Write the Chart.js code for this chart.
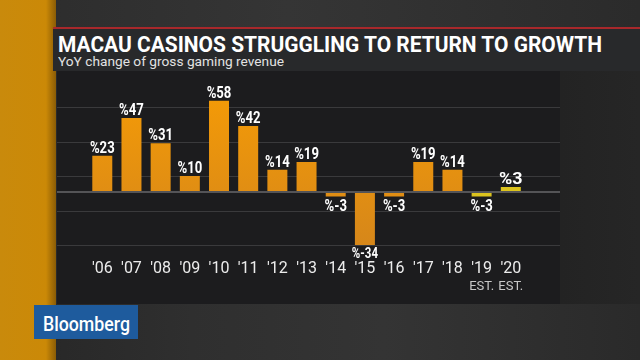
<!DOCTYPE html>
<html>
<head>
<meta charset="utf-8">
<script src="https://cdn.jsdelivr.net/npm/chart.js@4.4.0/dist/chart.umd.min.js"></script>
<style>
html,body{margin:0;padding:0;}
body{width:640px;height:360px;position:relative;overflow:hidden;background:#2a2a2a;font-family:Roboto,"Liberation Sans",sans-serif;}
.abs{position:absolute;}
#top{left:0;top:0;width:640px;height:27px;background:linear-gradient(to right,#2c2c2c,#353535 45%,#2b2b2b);}
#bottom{left:0;top:304px;width:640px;height:56px;background:linear-gradient(to right,#262626,#2f2f2f 30%,#343434 60%,#2a2a2a);}
#right{left:560px;top:71px;width:80px;height:233px;background:linear-gradient(to right,#232323,#262626);}
#strip{left:0;top:0;width:56px;height:360px;background:linear-gradient(to right,#c98a0c,#cb8907 82%,#8a5c06);}
#red{left:53px;top:27px;width:587px;height:2px;background:#a8282b;}
#tpanel{left:53px;top:29px;width:587px;height:42px;background:#28292b;}
#cpanel{left:57px;top:71px;width:503px;height:233px;background:#1c1c1e;}
.txt{white-space:nowrap;transform-origin:0 0;}
#title{left:58px;top:33.1px;font-size:22.5px;line-height:22.5px;font-weight:700;color:#ffffff;}
#sub{left:58px;top:55.1px;font-size:13px;line-height:13px;font-weight:400;color:#e2e2e2;}
#logo{left:34px;top:305px;width:104px;height:34px;background:#1e5b9d;}
#logotext{left:43px;top:314.6px;font-size:19.5px;line-height:19.5px;font-weight:500;color:#ffffff;}
#c{position:absolute;left:0;top:0;}
</style>
</head>
<body>
<div id="top" class="abs"></div>
<div id="bottom" class="abs"></div>
<div id="right" class="abs"></div>
<div id="strip" class="abs"></div>
<div id="red" class="abs"></div>
<div id="tpanel" class="abs"></div>
<div id="cpanel" class="abs"></div>
<div id="title" class="abs txt" data-w="544">MACAU CASINOS STRUGGLING TO RETURN TO GROWTH</div>
<div id="sub" class="abs txt" data-w="226">YoY change of gross gaming revenue</div>
<div id="logo" class="abs"></div>
<div id="logotext" class="abs txt" data-w="87">Bloomberg</div>
<canvas id="c" width="640" height="360"></canvas>
<script>
// ---- data ----
const categories = ["'06","'07","'08","'09","'10","'11","'12","'13","'14","'15","'16","'17","'18","'19","'20"];
const growth = [23, 47, 31, 10, 58, 42, 14, 19, -3, -34, -3, 19, 14, -3, 3];
const subLabels = ["","","","","","","","","","","","","","EST.","EST."];
const gridTicks = [-34, -12, 10, 32, 54];

// ---- fit header texts to measured widths ----
document.querySelectorAll('.txt').forEach(el => {
  const w = el.getBoundingClientRect().width;
  const target = parseFloat(el.dataset.w);
  if (w > 0) el.style.transform = 'scaleX(' + (target / w) + ')';
});

const isEstimate = subLabels.map(s => s !== "");
const PANEL_L = 57, PANEL_R = 560;

const gridPlugin = {
  id: 'panelGrid',
  beforeDatasetsDraw(chart) {
    const ctx = chart.ctx, y = chart.scales.y;
    ctx.save();
    ctx.strokeStyle = '#3a3a3c';
    ctx.lineWidth = 1;
    y.ticks.forEach(t => {
      const py = Math.round(y.getPixelForValue(t.value)) + 0.5;
      ctx.beginPath(); ctx.moveTo(PANEL_L, py); ctx.lineTo(PANEL_R, py); ctx.stroke();
    });
    ctx.restore();
  },
  afterDatasetsDraw(chart) {
    const ctx = chart.ctx, y = chart.scales.y, x = chart.scales.x;
    ctx.save();
    ctx.strokeStyle = '#545457';
    ctx.lineWidth = 2;
    const p0 = Math.round(y.getPixelForValue(0));
    ctx.beginPath(); ctx.moveTo(PANEL_L, p0); ctx.lineTo(PANEL_R, p0); ctx.stroke();
    // value labels
    const meta = chart.getDatasetMeta(0);
    ctx.fillStyle = '#ffffff';
    ctx.textAlign = 'center';
    ctx.textBaseline = 'alphabetic';
    meta.data.forEach((bar, i) => {
      const v = growth[i];
      const txt = '%' + v;
      const size = txt.length > 3 ? 14 : 16;
      const sx = (isEstimate[i] && v > 0) ? 1.12 : 0.82;
      ctx.font = '700 ' + size + 'px Roboto';
      const cap = size * 0.711;
      const py = v >= 0 ? bar.y - 3 : bar.y + 3 + cap;
      ctx.save();
      ctx.translate(bar.x, py);
      ctx.scale(sx, 1);
      ctx.fillText(txt, 0, 0);
      ctx.restore();
    });
    // sub labels (EST.)
    ctx.fillStyle = '#c8c8c8';
    ctx.font = '400 13px Roboto';
    subLabels.forEach((s, i) => {
      if (!s) return;
      ctx.fillText(s, x.getPixelForValue(i), 290);
    });
    ctx.restore();
  }
};

const ctx = document.getElementById('c').getContext('2d');
new Chart(ctx, {
  type: 'bar',
  data: {
    labels: categories,
    datasets: [{
      data: growth,
      backgroundColor: (c) => {
        if (isEstimate[c.dataIndex]) return '#dcc31e';
        const area = c.chart.chartArea;
        if (!area) return '#f0920c';
        const g = c.chart.ctx.createLinearGradient(0, area.top, 0, area.bottom);
        g.addColorStop(0, '#f59b06');
        g.addColorStop(1, '#d6871a');
        return g;
      },
      borderWidth: 0,
      categoryPercentage: 0.685,
      barPercentage: 1
    }]
  },
  options: {
    responsive: false,
    animation: false,
    layout: { padding: { left: 87.7, right: 114.6, top: 88.3, bottom: 0 } },
    plugins: { legend: { display: false }, tooltip: { enabled: false } },
    scales: {
      x: {
        grid: { display: false, drawTicks: false },
        border: { display: false },
        ticks: { color: '#ececec', font: { family: 'Roboto', size: 16, weight: '400' }, padding: 14.4, maxRotation: 0, autoSkip: false },
        afterFit: (s) => { s.height = 115; }
      },
      y: {
        min: -34, max: 66,
        grid: { display: false, drawTicks: false },
        border: { display: false },
        ticks: { display: false },
        afterBuildTicks: (s) => { s.ticks = gridTicks.map(v => ({ value: v })); },
        afterFit: (s) => { s.width = 0; }
      }
    }
  },
  plugins: [gridPlugin]
});
</script>
</body>
</html>
